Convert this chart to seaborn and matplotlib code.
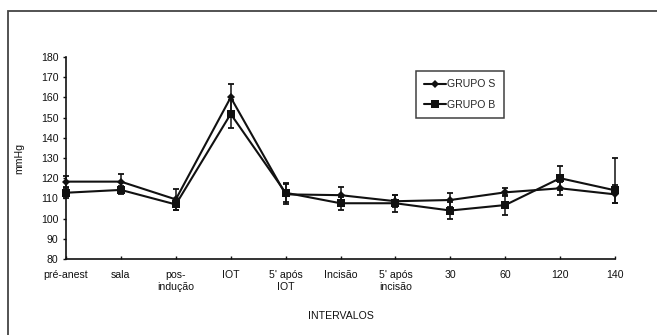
import numpy as np
import pandas as pd
import matplotlib
matplotlib.use("Agg")
import matplotlib.pyplot as plt
import seaborn as sns
from matplotlib.patches import Rectangle
from matplotlib.lines import Line2D

categories = ["pré-anest", "sala", "pos-\nindução", "IOT", "5' após\nIOT", "Incisão",
              "5' após\nincisão", "30", "60", "120", "140"]
grupo_s = [118.3, 118.3, 109.5, 160.0, 112.0, 111.6, 108.6, 109.2, 113.0, 115.0, 112.0]
grupo_s_err_low = [2.8, 3.6, 5.2, 6.6, 5.0, 4.2, 3.0, 3.5, 2.0, 3.3, 4.4]
grupo_s_err_up = [2.8, 3.6, 5.2, 6.6, 5.0, 4.2, 3.0, 3.5, 2.0, 3.3, 4.4]
grupo_b = [112.8, 114.2, 107.0, 151.8, 112.8, 107.6, 107.6, 104.0, 106.7, 120.0, 114.0]
grupo_b_err_low = [2.5, 2.0, 2.5, 6.8, 4.7, 3.3, 4.3, 4.0, 4.9, 5.8, 6.4]
grupo_b_err_up = [2.5, 2.0, 2.5, 6.8, 4.7, 3.3, 4.3, 4.0, 4.9, 5.8, 16.0]
series_names = ["GRUPO S", "GRUPO B"]
y_ticks = list(range(80, 181, 10))

sns.set_theme(style="white")
plt.rcParams["font.family"] = ["Liberation Sans", "DejaVu Sans"]
FS = 7.6
INK = "#111111"

fig = plt.figure(figsize=(6.57, 3.35), dpi=100)
ax = fig.add_axes([66 / 657, 1 - 259 / 335, (615 - 66) / 657, (259 - 57) / 335])

x = np.arange(len(categories))
df = pd.DataFrame({
    "x": np.concatenate([x, x]),
    "valor": grupo_s + grupo_b,
    "grupo": [series_names[0]] * len(x) + [series_names[1]] * len(x),
})

for vals, lo, up in [(grupo_s, grupo_s_err_low, grupo_s_err_up),
                     (grupo_b, grupo_b_err_low, grupo_b_err_up)]:
    ax.errorbar(x, vals, yerr=[lo, up], fmt="none", ecolor=INK, elinewidth=1.1,
                capsize=2.0, capthick=1.3, clip_on=False, zorder=2)

sns.lineplot(data=df, x="x", y="valor", hue="grupo", style="grupo",
             palette={series_names[0]: INK, series_names[1]: INK},
             markers={series_names[0]: "D", series_names[1]: "s"},
             dashes=False, linewidth=1.5, markersize=5, markeredgewidth=0,
             ax=ax, clip_on=False, zorder=3, legend=False)
for ln in ax.get_lines():
    if ln.get_marker() == "D":
        ln.set_markersize(3.8)
    elif ln.get_marker() == "s":
        ln.set_markersize(6.0)

ax.set_xlim(0, len(categories) - 1)
ax.set_ylim(80, 180)
ax.set_yticks(y_ticks)
ax.set_xticks(x)
ax.set_xticklabels(categories, fontsize=FS, color=INK, linespacing=1.2)
ax.set_yticklabels([str(v) for v in y_ticks], fontsize=FS, color=INK)
ax.tick_params(axis="y", direction="out", length=2.5, width=1.0, color=INK, pad=3, left=True)
ax.tick_params(axis="x", direction="in", length=2.0, width=1.0, color=INK, pad=8, bottom=True)
for s in ["top", "right"]:
    ax.spines[s].set_visible(False)
for s in ["left", "bottom"]:
    ax.spines[s].set_color(INK)
    ax.spines[s].set_linewidth(1.2)
ax.set_xlabel("INTERVALOS", fontsize=FS, color=INK, labelpad=14)
ax.set_ylabel("mmHg", fontsize=FS, color=INK, labelpad=12)
ax.grid(False)

handles = [
    Line2D([0], [0], color=INK, lw=1.5, marker="D", markersize=3.8, markeredgewidth=0),
    Line2D([0], [0], color=INK, lw=1.5, marker="s", markersize=6.0, markeredgewidth=0),
]
leg = ax.legend(handles, series_names, loc="upper left",
                bbox_to_anchor=((416 - 66) / (615 - 66), 1 - (71 - 57) / (259 - 57)),
                fontsize=FS, frameon=True, fancybox=False, shadow=False,
                handlelength=2.0, handletextpad=0.15, borderpad=0.8, labelspacing=1.0,
                borderaxespad=0)
leg.get_frame().set_edgecolor(INK)
leg.get_frame().set_linewidth(1.1)

fig.patches.append(Rectangle((7.5 / 657, -0.1), 1.2, 1 - 10.5 / 335 + 0.1,
                             transform=fig.transFigure, fill=False,
                             edgecolor="#444444", linewidth=1.3))

fig.savefig("out.png", dpi=100, facecolor="white")
